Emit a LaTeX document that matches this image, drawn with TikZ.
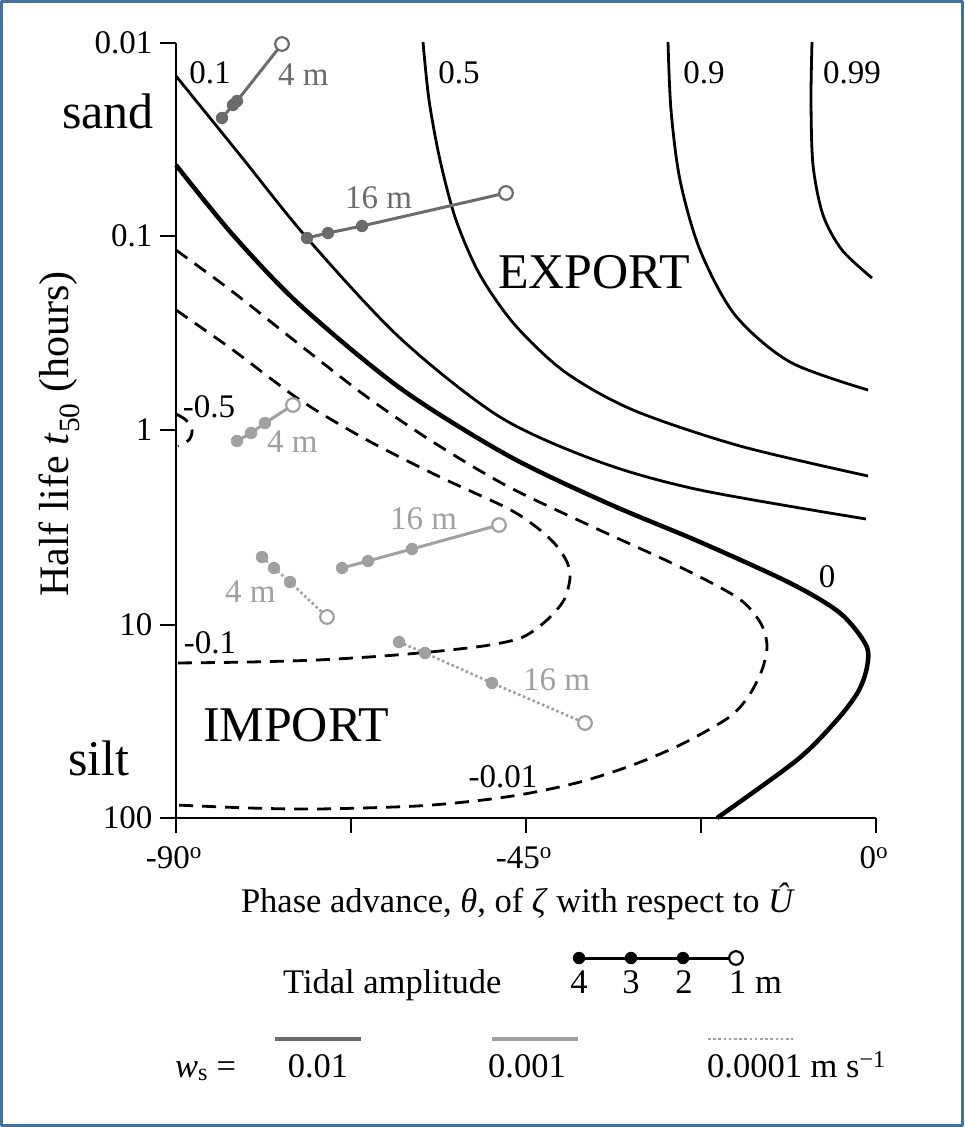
\documentclass[tikz,border=0pt]{standalone}
\usepackage{fontspec}
\setmainfont{Liberation Serif}
\definecolor{framecol}{HTML}{41719C}
\definecolor{darkws}{HTML}{6B6B6B}
\definecolor{lightws}{HTML}{A0A0A0}

\begin{document}
\begin{tikzpicture}[x=1pt,y=-1pt,line join=round,
    lab/.style={inner sep=0pt,font=\fontsize{33}{40}\selectfont},
    leglab/.style={inner sep=0pt,font=\fontsize{34.5}{40}\selectfont},
    biglab/.style={inner sep=0pt,font=\fontsize{50}{58}\selectfont},
    poscurve/.style={line width=2.8pt},
    zerocurve/.style={line width=4.5pt},
    negcurve/.style={line width=2.8pt,dash pattern=on 14pt off 9pt},
    ampline/.style={line width=3pt},
    ampdot/.style={line width=2.6pt,dash pattern=on 2.6pt off 2.6pt},
    opencirc/.style={line width=2.2pt,fill=white}]
        \useasboundingbox (0,0) rectangle (964,1127);
        \draw[framecol,line width=3pt] (1.5,1.5) rectangle (962.5,1125.5);
        \def\yb{818}

        \draw[line width=1.4pt] (176,43) -- (176,\yb) -- (876,\yb);
        \foreach \y/\t [count=\i] in {43/0.01,236/0.1,430/1,625/10,818/100}
          \draw[line width=1.4pt] (176,\y) -- (160,\y) node[lab,anchor=east,xshift=-7pt] (ytick\i) {\t};
        \foreach \x in {176,351,526,701,876}
          \draw[line width=1.4pt] (\x,\yb) -- (\x,833);
        \node[lab,anchor=base] (xtick1) at (174,868) {-90\textsuperscript{o}};
        \node[lab,anchor=base] (xtick2) at (524,868) {-45\textsuperscript{o}};
        \node[lab,anchor=base] (xtick3) at (874,868) {0\textsuperscript{o}};

        \draw[poscurve] plot[smooth] coordinates {(176,76) (240,155) (307,238) (400,338) (500,417) (600,462) (700,490) (866,519)};
        \draw[poscurve] plot[smooth] coordinates {(423,42) (429,100) (440,160) (456,220) (480,275) (515,325) (565,372) (633,410) (740,446) (868,476)};
        \draw[poscurve] plot[smooth] coordinates {(668,42) (671,110) (680,180) (700,250) (735,315) (790,362) (868,390)};
        \draw[poscurve] plot[smooth] coordinates {(812,42) (811,100) (813,165) (823,215) (842,250) (872,278)};
        \draw[zerocurve] plot[smooth] coordinates {(176,165) (233,235) (300,305) (400,388) (507,455) (607,503) (700,542) (790,583) (840,613) (866,645) (867,667) (858,692) (836,721) (797,760) (717,818)};
        \draw[negcurve] plot[smooth] coordinates {(176,250) (233,292) (300,345) (367,397) (433,442) (507,486) (593,527) (680,567) (738,598) (760,622) (767,645) (762,670) (748,697) (728,718) (680,745) (630,766) (580,782) (530,793) (483,800) (417,806) (317,809) (250,808) (176,805)};
        \draw[negcurve] plot[smooth] coordinates {(176,310) (233,350) (300,400) (367,440) (440,477) (507,508) (535,526) (555,544) (567,562) (570,578) (564,600) (547,620) (523,637) (490,645) (440,651) (383,656) (317,660) (250,662) (176,663)};
        \draw[negcurve] plot[smooth] coordinates {(176,414) (186,420) (192,430) (189,440) (178,446)};

        \node[lab] (c01) at (210,73) {0.1};
        \node[lab] (c05) at (459,73) {0.5};
        \node[lab] (c09) at (704,73) {0.9};
        \node[lab] (c099) at (852,73) {0.99};
        \node[lab] (c0) at (827,577) {0};
        \node[lab] (cm05) at (209,407) {-0.5};
        \node[lab] (cm01) at (210,643) {-0.1};
        \node[lab] (cm001) at (503,777) {-0.01};
        \node[biglab] (export) at (594,272) {EXPORT};
        \node[biglab] (import) at (296,725) {IMPORT};
        \node[biglab,anchor=base west] (sand) at (62,128) {sand};
        \node[biglab,anchor=base west] (silt) at (68,775) {silt};

        \coordinate (a4) at (222,118); \coordinate (a3) at (233,105); \coordinate (a2) at (237,101); \coordinate (a1) at (282,44);
        \coordinate (b4) at (307,238); \coordinate (b3) at (328,233); \coordinate (b2) at (362,226); \coordinate (b1) at (506,193);
        \coordinate (c4) at (237,441); \coordinate (c3) at (251,433); \coordinate (c2) at (265,423); \coordinate (c1) at (293,405);
        \coordinate (d4) at (342,568); \coordinate (d3) at (368,561); \coordinate (d2) at (412,549); \coordinate (d1) at (499,525);
        \coordinate (e4) at (262,557); \coordinate (e3) at (274,568); \coordinate (e2) at (290,582); \coordinate (e1) at (327,617);
        \coordinate (f4) at (399,642); \coordinate (f3) at (425,653); \coordinate (f2) at (492,683); \coordinate (f1) at (585,723);

        \foreach \s/\c/\st in {a/darkws/ampline,b/darkws/ampline,c/lightws/ampline,d/lightws/ampline,e/lightws/ampdot,f/lightws/ampdot}{
          \draw[\c,\st] (\s4) -- (\s3) -- (\s2) -- (\s1);
          \foreach \k in {2,3,4}
            \fill[\c] (\s\k) circle (6.2);
          \draw[\c,opencirc] (\s1) circle (6.8);
        }
        \node[lab,darkws,anchor=base west] (ta) at (278,85) {4 m};
        \node[lab,darkws,anchor=base west] (tb) at (345,208) {16 m};
        \node[lab,lightws,anchor=base west] (tc) at (267,452) {4 m};
        \node[lab,lightws,anchor=base west] (td) at (390,529) {16 m};
        \node[lab,lightws,anchor=base west] (te) at (225,602) {4 m};
        \node[lab,lightws,anchor=base west] (tf) at (523,690) {16 m};

        \node[biglab,rotate=90,font=\fontsize{42}{50}\selectfont] (ylab) at (59,434) {Half life \textit{t}\textsubscript{50} (hours)};
        \node[leglab,anchor=base] (xlab) at (518,912) {Phase advance, \textit{θ}, of \textit{ζ} with respect to \textit{Û}};

        \node[leglab,anchor=base west] (tidal) at (283,993) {Tidal amplitude};
        \coordinate (m4) at (579,958); \coordinate (m3) at (631,958); \coordinate (m2) at (683,958); \coordinate (m1) at (736,958);
        \draw[ampline] (m4) -- (m3) -- (m2) -- (m1);
        \foreach \k in {2,3,4}
          \fill (m\k) circle (6.2);
        \draw[opencirc] (m1) circle (6.8);
        \node[leglab,anchor=base] (n4) at (579,993) {4};
        \node[leglab,anchor=base] (n3) at (631,993) {3};
        \node[leglab,anchor=base] (n2) at (684,993) {2};
        \node[leglab,anchor=base west] (n1) at (729,993) {1 m};

        \coordinate (ka) at (275,1039); \coordinate (kb) at (361,1039);
        \coordinate (kc) at (492,1039); \coordinate (kd) at (578,1039);
        \coordinate (ke) at (708,1039); \coordinate (kf) at (793,1039);
        \draw[darkws,line width=3.5pt] (ka) -- (kb);
        \draw[lightws,line width=3.5pt] (kc) -- (kd);
        \draw[lightws,ampdot] (ke) -- (kf);
        \node[leglab,anchor=base west] (ws) at (175,1077) {\textit{w}\textsubscript{s} =};
        \node[leglab,anchor=base] (w1) at (318,1077) {0.01};
        \node[leglab,anchor=base] (w2) at (527,1077) {0.001};
        \node[leglab,anchor=base west] (w3) at (707,1077) {0.0001 m s\textsuperscript{−1}};
      \end{tikzpicture}
\end{document}
